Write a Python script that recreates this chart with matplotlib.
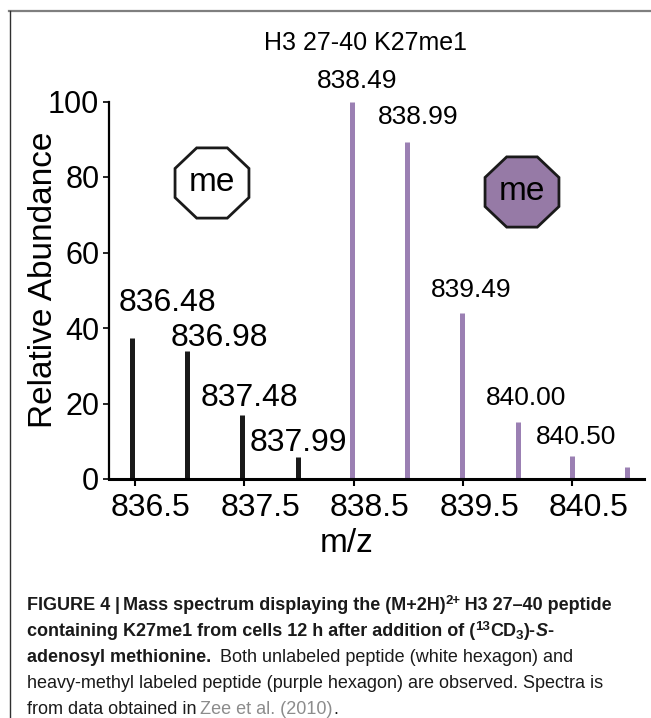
import numpy as np
import matplotlib
matplotlib.use('Agg')
import matplotlib.pyplot as plt
from matplotlib.patches import RegularPolygon
from matplotlib.lines import Line2D
from matplotlib.transforms import ScaledTranslation
from matplotlib import font_manager

# peaks of the unlabeled (black) and heavy-methyl labeled (purple) envelope
black_mz = [836.48, 836.98, 837.48, 837.99]
black_ab = [37.3, 34.0, 17.0, 5.7]
purple_mz = [838.49, 838.99, 839.49, 840.00, 840.50, 841.00]
purple_ab = [100.0, 89.3, 44.0, 15.1, 6.0, 3.3]
black_labels = ['836.48', '836.98', '837.48', '837.99']
purple_labels = ['838.49', '838.99', '839.49', '840.00', '840.50', '']
xticks = [836.5, 837.5, 838.5, 839.5, 840.5]
yticks = [0, 20, 40, 60, 80, 100]

plt.rcParams['font.family'] = ['Liberation Sans', 'DejaVu Sans']
names = {f.name for f in font_manager.fontManager.ttflist}
cap_font = 'Liberation Sans Narrow' if 'Liberation Sans Narrow' in names else 'Liberation Sans'

W, H = 651, 718
fig = plt.figure(figsize=(W / 100, H / 100), dpi=100)

def fx(px):
    return px / W

def fy(py):
    return 1 - py / H

# frame lines of the figure panel
fig.add_artist(Line2D([fx(9), 1], [fy(11), fy(11)], color='#7f7f7f', lw=1.6))
fig.add_artist(Line2D([fx(10), fx(10)], [fy(11), 0], color='#303030', lw=1.0))

ax = fig.add_axes([fx(109), fy(479), fx(644) - fx(109), fy(101.5) - fy(479)])
purple = '#9b80b3'
ax.vlines(black_mz, 0, black_ab, color='#1a1a1a', lw=3.6)
ax.vlines(purple_mz, 0, purple_ab, color=purple, lw=3.6)
ax.set_xlim(836.267, 841.153)
ax.set_ylim(0, 100)
for s in ['top', 'right']:
    ax.spines[s].set_visible(False)
ax.spines['left'].set_linewidth(1.6)
ax.spines['bottom'].set_linewidth(2.2)
ax.set_xticks(xticks)
ax.set_xticklabels([str(t) for t in xticks], fontsize=23)
ax.set_xticks(np.arange(836.3, 841.15, 0.1), minor=True)
ax.set_yticks(yticks)
ax.set_yticklabels([str(t) for t in yticks], fontsize=22)
ax.tick_params(axis='x', which='major', length=5, width=1.5, pad=5)
ax.tick_params(axis='x', which='minor', length=2, width=0.8, direction='inout')
ax.tick_params(axis='y', length=4, width=1.2, pad=3)
for lab in ax.get_xticklabels():
    lab.set_transform(lab.get_transform() + ScaledTranslation(0.16, 0, fig.dpi_scale_trans))

# peak labels (offsets in pixels from bar top)
black_off = [(35, 35), (32, 13), (8, 17), (1, 14)]
purple_off = [(5, 20), (11, 25), (9, 23), (8, 24), (4, 19), (0, 0)]
for mz, ab, lab, off in zip(black_mz, black_ab, black_labels, black_off):
    ax.annotate(lab, (mz, ab), xytext=off, textcoords='offset pixels',
                ha='center', va='center', fontsize=23, annotation_clip=False)
for mz, ab, lab, off in zip(purple_mz, purple_ab, purple_labels, purple_off):
    if lab:
        ax.annotate(lab, (mz, ab), xytext=off, textcoords='offset pixels',
                    ha='center', va='center', fontsize=19, annotation_clip=False)

fig.text(fx(44), fy(280), 'Relative Abundance', rotation=90, ha='center', va='center', fontsize=24)
fig.text(fx(347), fy(543), 'm/z', ha='center', va='center', fontsize=24)
fig.text(fx(366), fy(43), 'H3 27-40 K27me1', ha='center', va='center', fontsize=18)

# octagon badges
def badge(cx, cy, face):
    bw, bh = 80, 76
    b = fig.add_axes([fx(cx - bw / 2), fy(cy + bh / 2), bw / W, bh / H])
    b.set_xlim(-1, 1)
    b.set_ylim(-1, 1)
    b.axis('off')
    b.add_patch(RegularPolygon((0, 0), 8, radius=1.0, orientation=np.pi / 8,
                               facecolor=face, edgecolor='#1a1a1a', lw=2.0, clip_on=False))
    b.text(0, 0.02, 'me', ha='center', va='center', fontsize=24)

badge(212, 183, 'white')
badge(522, 192, '#967aa6')

# caption, drawn run by run
fig.canvas.draw()
renderer = fig.canvas.get_renderer()

def line(x0, py, runs):
    x = x0
    for txt, kw in runs:
        size = kw.get('size', 13)
        dy = kw.get('dy', 0)
        t = fig.text(fx(x), fy(py - dy), txt, ha='left', va='baseline',
                     fontsize=size, fontweight=kw.get('weight', 'normal'),
                     fontstyle=kw.get('style', 'normal'), color=kw.get('color', '#1a1a1a'),
                     family=[cap_font, 'DejaVu Sans'])
        x += t.get_window_extent(renderer).width + kw.get('gap', 0)

B = {'weight': 'bold'}
BS = {'weight': 'bold', 'size': 9.5, 'dy': 6}
BD = {'weight': 'bold', 'size': 9.5, 'dy': -3}
R = {}
x0 = 27
line(x0, 610, [('FIGURE 4', dict(B, gap=4)), ('|', dict(B, gap=4)),
               ('Mass spectrum displaying the (M+2H)', B), ('2+', BS),
               ('\u2009H3 27\u201340 peptide', B)])
line(x0, 636, [('containing K27me1 from cells 12 h after addition of (', B), ('13', BS),
               ('CD', B), ('3', BD), (')-', B), ('S', dict(B, style='italic')), ('-', B)])
line(x0, 662, [('adenosyl methionine.', dict(B, gap=9)),
               ('Both unlabeled peptide (white hexagon) and', R)])
line(x0, 688, [('heavy-methyl labeled peptide (purple hexagon) are observed. Spectra is', R)])
line(x0, 714, [('from data obtained in', dict(R, gap=4)), ('Zee et al. (2010)', {'color': '#8c8c8c'}),
               ('.', R)])

fig.savefig('out.png', dpi=100)
